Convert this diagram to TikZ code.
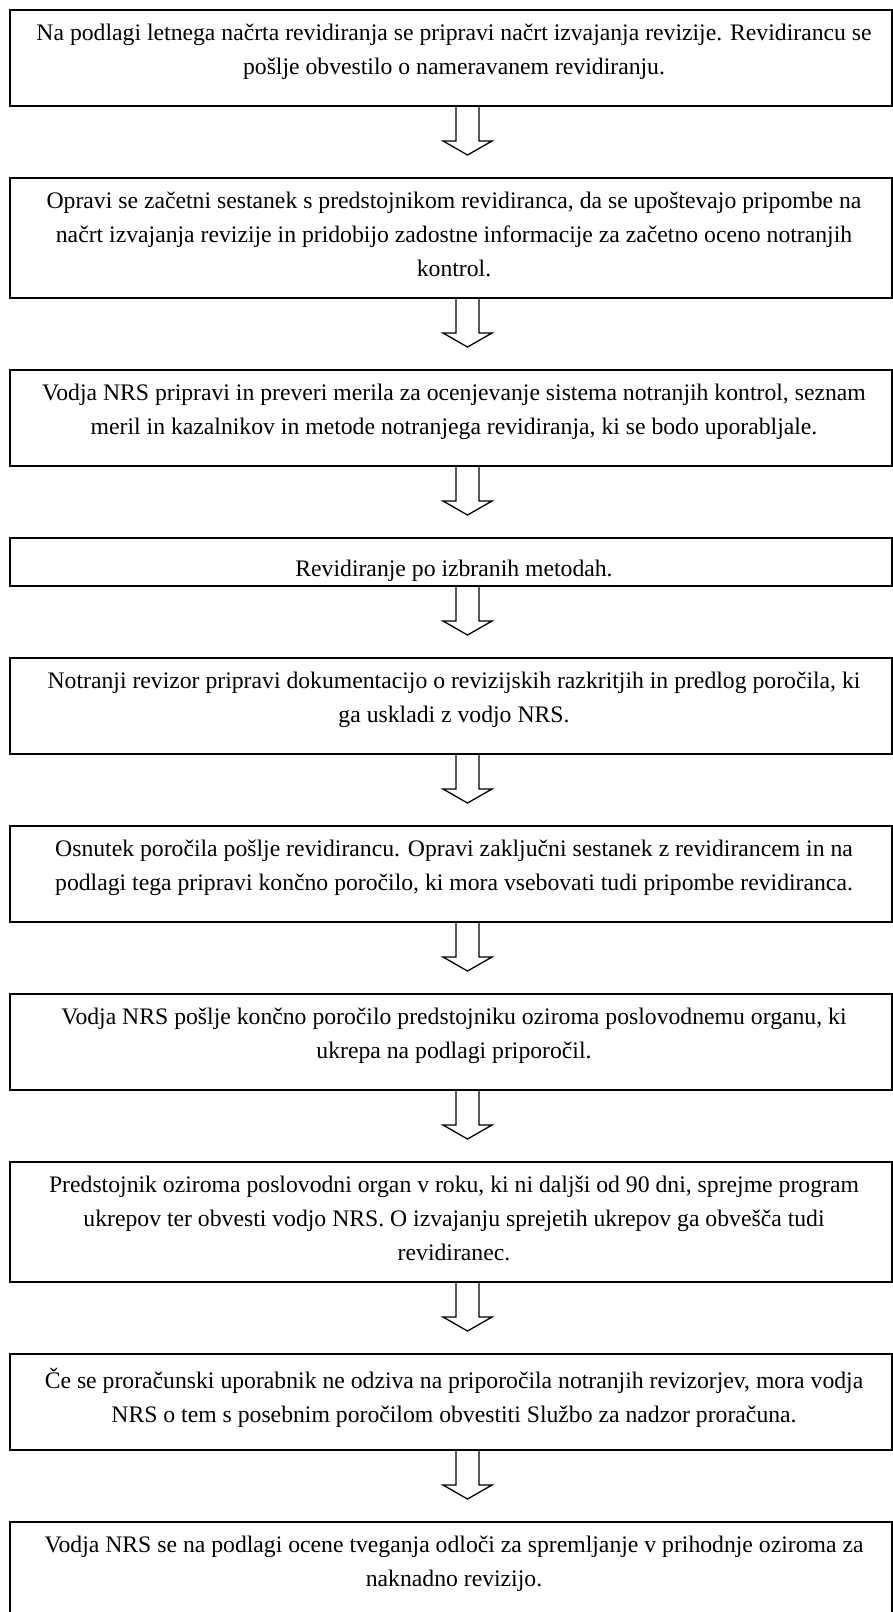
\documentclass[tikz,border=0pt]{standalone}
\usepackage{fontspec}
\setmainfont{Liberation Serif}
\usetikzlibrary{positioning}

\begin{document}
\begin{tikzpicture}[x=1pt, y=-1pt, node distance=72pt,
    stepbox/.style={draw, line width=1.8pt, minimum width=882pt, inner sep=0pt, outer sep=0pt},
    steptext/.style={anchor=north, align=center, inner sep=0pt,
      font=\fontsize{23.7pt}{34pt}\selectfont, execute at begin node=\strut},
    blockarrow/.style={draw, line width=1.3pt, line join=miter}]
   \useasboundingbox (0,0) rectangle (893,1612);
   \clip (0,0) rectangle (893,1612);
   % boxes
   \node [stepbox, minimum height=96pt, anchor=north] (b1) at (451,10) {};
   \node [stepbox, minimum height=120pt, below=of b1] (b2) {};
   \node [stepbox, minimum height=96pt, below=of b2] (b3) {};
   \node [stepbox, minimum height=48pt, below=of b3] (b4) {};
   \node [stepbox, minimum height=96pt, below=of b4] (b5) {};
   \node [stepbox, minimum height=96pt, below=of b5] (b6) {};
   \node [stepbox, minimum height=96pt, below=of b6] (b7) {};
   \node [stepbox, minimum height=120pt, below=of b7] (b8) {};
   \node [stepbox, minimum height=96pt, below=of b8] (b9) {};
   \node [stepbox, minimum height=120pt, below=of b9] (b10) {};
   % texts
   \node [steptext, below=14pt of b1.north, xshift=3pt] (t1) {Na podlagi letnega načrta revidiranja se pripravi načrt izvajanja revizije. Revidirancu se\\ pošlje obvestilo o nameravanem revidiranju.};
   \node [steptext, below=14pt of b2.north, xshift=3pt] (t2) {Opravi se začetni sestanek s predstojnikom revidiranca, da se upoštevajo pripombe na\\ načrt izvajanja revizije in pridobijo zadostne informacije za začetno oceno notranjih\\ kontrol.};
   \node [steptext, below=14pt of b3.north, xshift=3pt] (t3) {Vodja NRS pripravi in preveri merila za ocenjevanje sistema notranjih kontrol, seznam\\ meril in kazalnikov in metode notranjega revidiranja, ki se bodo uporabljale.};
   \node [steptext, below=14pt of b4.north, xshift=3pt] (t4) {Revidiranje po izbranih metodah.};
   \node [steptext, below=14pt of b5.north, xshift=3pt] (t5) {Notranji revizor pripravi dokumentacijo o revizijskih razkritjih in predlog poročila, ki\\ ga uskladi z vodjo NRS.};
   \node [steptext, below=14pt of b6.north, xshift=3pt] (t6) {Osnutek poročila pošlje revidirancu. Opravi zaključni sestanek z revidirancem in na\\ podlagi tega pripravi končno poročilo, ki mora vsebovati tudi pripombe revidiranca.};
   \node [steptext, below=14pt of b7.north, xshift=3pt] (t7) {Vodja NRS pošlje končno poročilo predstojniku oziroma poslovodnemu organu, ki\\ ukrepa na podlagi priporočil.};
   \node [steptext, below=14pt of b8.north, xshift=3pt] (t8) {Predstojnik oziroma poslovodni organ v roku, ki ni daljši od 90 dni, sprejme program\\ ukrepov ter obvesti vodjo NRS. O izvajanju sprejetih ukrepov ga obvešča tudi\\ revidiranec.};
   \node [steptext, below=14pt of b9.north, xshift=3pt] (t9) {Če se proračunski uporabnik ne odziva na priporočila notranjih revizorjev, mora vodja\\ NRS o tem s posebnim poročilom obvestiti Službo za nadzor proračuna.};
   \node [steptext, below=14pt of b10.north, xshift=3pt] (t10) {Vodja NRS se na podlagi ocene tveganja odloči za spremljanje v prihodnje oziroma za\\ naknadno revizijo.};
   % hollow arrows
   \foreach \i in {1,...,9}
      \draw [blockarrow] ([xshift=5pt]b\i.south) -- ++(0,35) -- ++(-13,0) -- ++(24.5,14)
         -- ++(24.5,-14) -- ++(-13,0) -- ++(0,-35);
\end{tikzpicture}
\end{document}
